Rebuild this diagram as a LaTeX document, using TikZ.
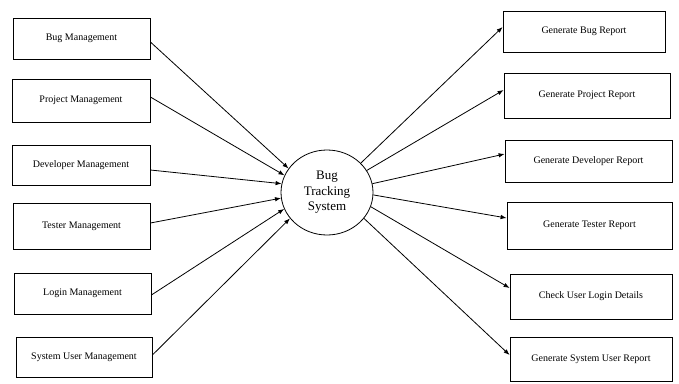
\documentclass[tikz,border=0pt]{standalone}
\usepackage{fontspec}
\setmainfont{Liberation Serif}
\usetikzlibrary{arrows.meta,shapes.geometric}
\begin{document}
\begin{tikzpicture}[x=1pt,y=-1pt,
  box/.style={draw, line width=0.8pt, inner sep=0pt, font=\fontsize{10}{12}\selectfont},
  hub/.style={draw, ellipse, line width=0.8pt, inner sep=0pt, minimum width=92pt, minimum height=85pt,
    align=center, font=\fontsize{13}{15.5}\selectfont},
  flow/.style={line width=0.8pt, -{Latex[length=6pt,width=4.5pt]}}
]
\useasboundingbox (0,0) rectangle (679,383);

% central process
\node[hub] (c) at (327,192.5) {Bug\\Tracking\\System};

% input modules
\node[box, minimum width=137pt, minimum height=41pt] (bm)  at (81.5,38.5)  {Bug Management};
\node[box, minimum width=138pt, minimum height=43pt] (pm)  at (81,100.5)   {Project Management};
\node[box, minimum width=138pt, minimum height=40pt] (dm)  at (81,165)     {Developer Management};
\node[box, minimum width=137pt, minimum height=46pt] (tm)  at (81.5,226)   {Tester Management};
\node[box, minimum width=137pt, minimum height=41pt] (lm)  at (82.5,293.5) {Login Management};
\node[box, minimum width=136pt, minimum height=40pt] (sum) at (84,357)     {System User Management};

% generated outputs
\node[box, minimum width=162pt, minimum height=41pt] (gbr)  at (584,31.5)  {Generate Bug Report};
\node[box, minimum width=166pt, minimum height=45pt] (gpr)  at (587,95.5)  {Generate Project Report};
\node[box, minimum width=167pt, minimum height=42pt] (gdr)  at (588.5,161) {Generate Developer Report};
\node[box, minimum width=165pt, minimum height=47pt] (gtr)  at (589.5,225.5) {Generate Tester Report};
\node[box, minimum width=162pt, minimum height=45pt] (cul)  at (591,296.5) {Check User Login Details};
\node[box, minimum width=162pt, minimum height=44pt] (gsur) at (591,359)   {Generate System User Report};

% flows into the system
\draw[flow] ([yshift=-3.5pt]bm.east) -- (c.148.7);
\draw[flow] ([yshift=3.5pt]pm.east)  -- (c.158.3);
\draw[flow] ([yshift=-5pt]dm.east)   -- (c.169);
\draw[flow] ([yshift=3pt]tm.east)    -- (c.187.7);
\draw[flow] ([yshift=-1.5pt]lm.east) -- (c.201.7);
\draw[flow] ([yshift=2pt]sum.east)   -- (c.215);

% flows out of the system
\draw[flow] (c.41)   -- ([yshift=4.5pt]gbr.west);
\draw[flow] (c.29)   -- ([yshift=5.5pt]gpr.west);
\draw[flow] (c.11.7) -- ([yshift=7pt]gdr.west);
\draw[flow] (c.-3)   -- ([yshift=7.5pt]gtr.west);
\draw[flow] (c.-18.6) -- ([yshift=8.5pt]cul.west);
\draw[flow] (c.-35)  -- ([yshift=4pt]gsur.west);
\end{tikzpicture}
\end{document}
